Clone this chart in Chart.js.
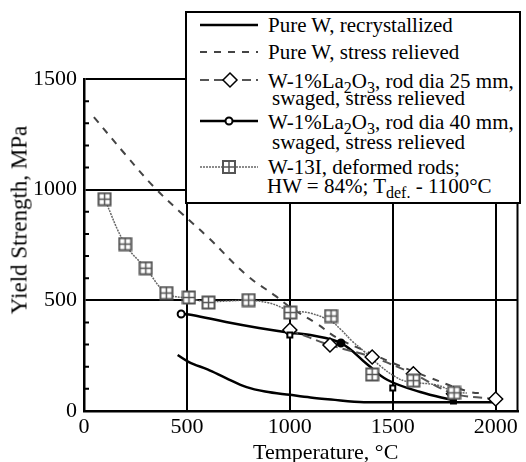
<!DOCTYPE html>
<html>
<head>
<meta charset="utf-8">
<script src="https://cdn.jsdelivr.net/npm/chart.js@4.4.1/dist/chart.umd.min.js"></script>
<style>
body{margin:0;background:#fff;}
#wrap{position:relative;width:526px;height:462px;font-family:'Liberation Serif',serif;color:#000;}
#c{position:absolute;left:0;top:0;}
.ax{position:absolute;white-space:nowrap;line-height:1;font-size:22px;}
#legend{position:absolute;left:185px;top:11px;width:332px;height:189px;border:2px solid #000;background:#fff;font-size:21px;}
#legend svg{position:absolute;left:0;top:0;}
.t{position:absolute;white-space:nowrap;line-height:20px;height:20px;}
.t sub{font-size:16px;vertical-align:-5px;line-height:0;}
</style>
</head>
<body>
<div id="wrap">
  <canvas id="c" width="526" height="462"></canvas>
  <div class="ax" style="left:253px;top:441px;font-size:22px;">Temperature, °C</div>
  <div class="ax" style="left:19px;top:220px;font-size:23px;transform:translate(-50%,-50%) rotate(-90deg);">Yield Strength, MPa</div>
  <div id="legend">
    <svg width="332" height="189">
      <line x1="13" y1="12" x2="71" y2="12" stroke="#000" stroke-width="2.5"/>
      <line x1="13" y1="39" x2="71" y2="39" stroke="#444" stroke-width="2" stroke-dasharray="7,7"/>
      <line x1="13" y1="67" x2="71" y2="67" stroke="#555" stroke-width="2" stroke-dasharray="9,5"/>
      <polygon points="43,60 50,67 43,74 36,67" fill="#fff" stroke="#000" stroke-width="1.5"/>
      <line x1="13" y1="108" x2="71" y2="108" stroke="#000" stroke-width="2.5"/>
      <circle cx="42" cy="108" r="3.5" fill="#fff" stroke="#000" stroke-width="2"/>
      <line x1="13" y1="154" x2="71" y2="154" stroke="#666" stroke-width="1.5" stroke-dasharray="2,1"/>
      <rect x="36" y="148" width="12" height="12" fill="#fff" stroke="#555" stroke-width="2"/>
      <line x1="42" y1="148" x2="42" y2="160" stroke="#555" stroke-width="1.5"/>
      <line x1="36" y1="154" x2="48" y2="154" stroke="#555" stroke-width="1.5"/>
    </svg>
    <div class="t" style="left:81px;top:2px;">Pure W, recrystallized</div>
    <div class="t" style="left:81px;top:29px;">Pure W, stress relieved</div>
    <div class="t" style="left:81px;top:58px;">W-1%La<sub>2</sub>O<sub>3</sub>, rod dia 25 mm,</div>
    <div class="t" style="left:85px;top:75px;">swaged, stress relieved</div>
    <div class="t" style="left:81px;top:99px;">W-1%La<sub>2</sub>O<sub>3</sub>, rod dia 40 mm,</div>
    <div class="t" style="left:85px;top:119px;">swaged, stress relieved</div>
    <div class="t" style="left:81px;top:144px;">W-13I, deformed rods;</div>
    <div class="t" style="left:80px;top:163px;">HW = 84%; T<sub>def.</sub> - 1100°C</div>
  </div>
</div>
<script>
// tick values
const xTicks = [0, 500, 1000, 1500, 2000];
const yTicks = [0, 100, 200, 300, 400, 500, 600, 700, 800, 900, 1000, 1100, 1200, 1300, 1400, 1500];
const yLabels = [0, 500, 1000, 1500];

// Pure W, recrystallized
const pwrX = [455, 510, 600, 690, 790, 880, 1000, 1100, 1200, 1360, 1600, 1800, 2000];
const pwrY = [253, 221, 188, 149, 108, 88, 73, 61, 52, 40, 39, 39, 39];

// Pure W, stress relieved
const pwsX = [48, 200, 340, 460, 600, 790, 930, 1000, 1130, 1230, 1370, 1500, 1670, 1875, 1950];
const pwsY = [1328, 1160, 1012, 905, 787, 614, 520, 470, 395, 330, 270, 217, 154, 86, 80];

// W-1%La2O3, rod dia 25 mm
const la25X = [1000, 1195, 1400, 1600, 1795, 2000];
const la25Y = [366, 298, 244, 168, 78, 54];

// W-1%La2O3, rod dia 40 mm (curve and measured points)
const la40X = [472, 525, 690, 850, 1000, 1100, 1248, 1380, 1475, 1634, 1795];
const la40Y = [438, 434, 402, 375, 354, 343, 307, 208, 140, 86, 48];
const la40PtX = [472, 1000, 1248, 1500, 1795];
const la40PtY = [438, 343, 307, 104, 45];

// W-13I, deformed rods (measured points and fitted curve)
const w13X = [100, 200, 300, 400, 510, 605, 800, 1002, 1200, 1400, 1600, 1798];
const w13Y = [957, 754, 645, 533, 513, 490, 501, 445, 429, 165, 137, 82];
const w13FitX = [100, 200, 300, 400, 500, 600, 700, 800, 900, 1000, 1100, 1200, 1250, 1300, 1365, 1440, 1510, 1570, 1716, 1800, 1860];
const w13FitY = [957, 754, 645, 533, 510, 495, 497, 500, 488, 455, 442, 405, 366, 318, 266, 203, 156, 133, 117, 86, 81];

const pts = (xs, ys) => xs.map((x, i) => ({x: x, y: ys[i]}));

// marker for W-13I: square with a cross
const sq = document.createElement('canvas');
sq.width = 15; sq.height = 15;
const g = sq.getContext('2d');
g.fillStyle = '#fff';
g.fillRect(1, 1, 13, 13);
g.strokeStyle = '#555';
g.lineWidth = 2;
g.strokeRect(1.5, 1.5, 12, 12);
g.lineWidth = 1.5;
g.beginPath();
g.moveTo(7.5, 1.5); g.lineTo(7.5, 13.5);
g.moveTo(1.5, 7.5); g.lineTo(13.5, 7.5);
g.stroke();

const frame = {
    id: 'frame',
    afterDraw(chart) {
        const ctx = chart.ctx, a = chart.chartArea, y = chart.scales.y;
        ctx.save();
        ctx.strokeStyle = '#000';
        ctx.lineWidth = 2;
        ctx.beginPath();
        ctx.moveTo(a.right, a.top);
        ctx.lineTo(a.right, a.bottom);
        yTicks.forEach(v => {
            if (yLabels.includes(v)) return;
            const p = y.getPixelForValue(v);
            ctx.moveTo(a.left, p);
            ctx.lineTo(a.left + 5, p);
        });
        ctx.stroke();
        ctx.restore();
    }
};

Chart.defaults.font.family = "'Liberation Serif', serif";
Chart.defaults.color = '#000';

new Chart(document.getElementById('c'), {
    type: 'scatter',
    data: {
        datasets: [
            {data: pts(w13X, w13Y), showLine: false, pointStyle: sq, pointRadius: 7, order: 0},
            {data: pts(la40PtX, la40PtY), showLine: false, order: 1,
             pointStyle: ['circle', 'rect', 'circle', 'rect', 'rect'],
             pointRadius: 3.5, pointBackgroundColor: ['#fff', '#fff', '#000', '#fff', '#000'],
             pointBorderColor: '#000', pointBorderWidth: 2},
            {data: pts(la25X, la25Y), showLine: true, borderColor: '#555', borderWidth: 2,
             borderDash: [9, 5], tension: 0.3, pointStyle: 'rectRot', pointRadius: 7,
             pointBackgroundColor: '#fff', pointBorderColor: '#000', pointBorderWidth: 1.5, order: 2},
            {data: pts(la40X, la40Y), showLine: true, borderColor: '#000', borderWidth: 2.5,
             tension: 0.4, pointRadius: 0, order: 3},
            {data: pts(w13FitX, w13FitY), showLine: true, borderColor: '#666', borderWidth: 1.5,
             borderDash: [2, 1], tension: 0.4, pointRadius: 0, order: 4},
            {data: pts(pwsX, pwsY), showLine: true, borderColor: '#444', borderWidth: 2,
             borderDash: [7, 7], tension: 0.4, pointRadius: 0, order: 5},
            {data: pts(pwrX, pwrY), showLine: true, borderColor: '#000', borderWidth: 2.5,
             tension: 0.4, cubicInterpolationMode: 'monotone', pointRadius: 0, order: 6}
        ]
    },
    options: {
        responsive: false,
        animation: false,
        layout: {padding: {top: 79, right: 5, left: 0, bottom: 0}},
        plugins: {legend: {display: false}, tooltip: {enabled: false}},
        scales: {
            x: {
                type: 'linear', min: 0, max: 2106,
                afterBuildTicks: s => { s.ticks = xTicks.map(v => ({value: v})); },
                afterFit: s => { s.height = 51; },
                grid: {drawTicks: false, lineWidth: 2,
                       color: c => (c.tick && c.tick.value > 0) ? '#000' : 'rgba(0,0,0,0)'},
                border: {color: '#000', width: 2.5},
                ticks: {padding: 3, font: {size: 22}, maxRotation: 0, callback: v => String(v)}
            },
            y: {
                min: 0, max: 1500,
                afterBuildTicks: s => { s.ticks = yTicks.map(v => ({value: v})); },
                afterFit: s => { s.width = 84; },
                grid: {drawTicks: false, lineWidth: 2,
                       color: c => (c.tick && c.tick.value > 0 && yLabels.includes(c.tick.value)) ? '#000' : 'rgba(0,0,0,0)'},
                border: {color: '#000', width: 2.5},
                ticks: {padding: 7, font: {size: 22}, autoSkip: false,
                        callback: v => yLabels.includes(v) ? String(v) : ''}
            }
        }
    },
    plugins: [frame]
});
</script>
</body>
</html>
